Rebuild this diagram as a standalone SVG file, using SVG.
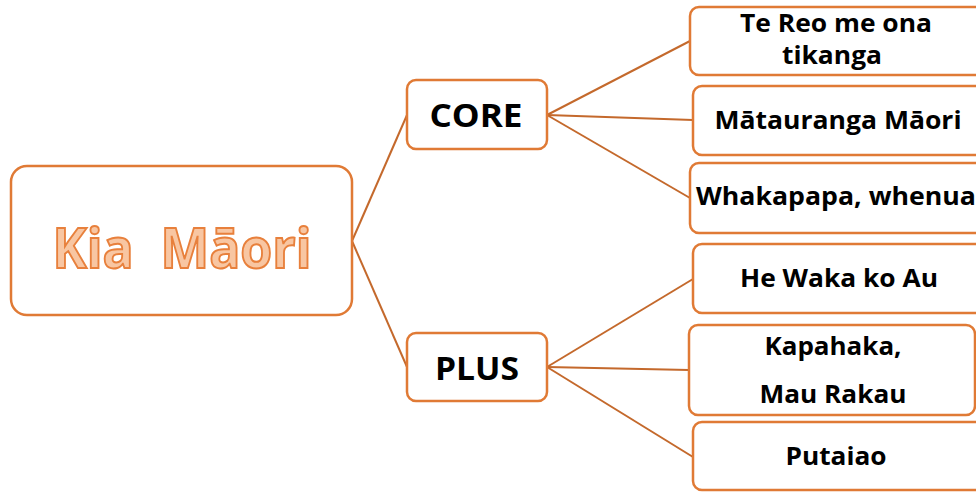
<svg xmlns="http://www.w3.org/2000/svg" width="976" height="493" viewBox="0 0 976 493">
<style>
.box{fill:#fff;stroke:#E07A35;stroke-width:2.5}
.conn{fill:none;stroke:#C4692C;stroke-width:2}
.t{font-family:"Open Sans","Noto Sans","Liberation Sans",sans-serif;font-weight:bold;fill:#000;text-anchor:middle}
.title{font-family:"Open Sans","Noto Sans","Liberation Sans",sans-serif;font-weight:bold;fill:#F8C6A2;stroke:#E8803C;stroke-width:2;text-anchor:middle}
</style>
<rect width="976" height="493" fill="#fff"/>
<g id="connectors">
<path class="conn" d="M352,241 L407,115"/>
<path class="conn" d="M352,241 L407,367"/>
<path class="conn" d="M547,115 L690,41"/>
<path class="conn" d="M547,115 L693,120"/>
<path class="conn" d="M547,115 L690,198"/>
<path class="conn" d="M547,367 L693,279"/>
<path class="conn" d="M547,367 L689,370"/>
<path class="conn" d="M547,367 L693,457"/>
</g>
<g id="root">
<rect class="box" x="11" y="166" width="341" height="149" rx="16"/>
<text class="title" x="182" y="268" font-size="56" textLength="259" lengthAdjust="spacingAndGlyphs" xml:space="preserve">Kia  Māori</text>
</g>
<g id="core">
<rect class="box" x="407" y="80" width="140" height="69" rx="9"/>
<text class="t" x="476" y="127" font-size="33" textLength="93" lengthAdjust="spacingAndGlyphs">CORE</text>
</g>
<g id="plus">
<rect class="box" x="407" y="333" width="140" height="68" rx="9"/>
<text class="t" x="477" y="380" font-size="33" textLength="84" lengthAdjust="spacingAndGlyphs">PLUS</text>
</g>
<g id="tereo">
<rect class="box" x="690" y="7" width="300" height="68" rx="9"/>
<text class="t" x="836" y="32" font-size="25" textLength="192" lengthAdjust="spacingAndGlyphs">Te Reo me ona</text>
<text class="t" x="832" y="64" font-size="25" textLength="100" lengthAdjust="spacingAndGlyphs">tikanga</text>
</g>
<g id="matauranga">
<rect class="box" x="693" y="86" width="300" height="69" rx="9"/>
<text class="t" x="838" y="129" font-size="25" textLength="247" lengthAdjust="spacingAndGlyphs">Mātauranga Māori</text>
</g>
<g id="whakapapa">
<rect class="box" x="690" y="163" width="300" height="70" rx="9"/>
<text class="t" x="836" y="205" font-size="25" textLength="280" lengthAdjust="spacingAndGlyphs">Whakapapa, whenua</text>
</g>
<g id="hewaka">
<rect class="box" x="693" y="244" width="300" height="69" rx="9"/>
<text class="t" x="839" y="287" font-size="25" textLength="198" lengthAdjust="spacingAndGlyphs">He Waka ko Au</text>
</g>
<g id="kapahaka">
<rect class="box" x="689" y="325" width="286" height="90" rx="9"/>
<text class="t" x="833" y="355" font-size="25" textLength="137" lengthAdjust="spacingAndGlyphs">Kapahaka,</text>
<text class="t" x="833" y="403" font-size="25" textLength="147" lengthAdjust="spacingAndGlyphs">Mau Rakau</text>
</g>
<g id="putaiao">
<rect class="box" x="693" y="422" width="300" height="68" rx="9"/>
<text class="t" x="836" y="465" font-size="25" textLength="101" lengthAdjust="spacingAndGlyphs">Putaiao</text>
</g>
</svg>
